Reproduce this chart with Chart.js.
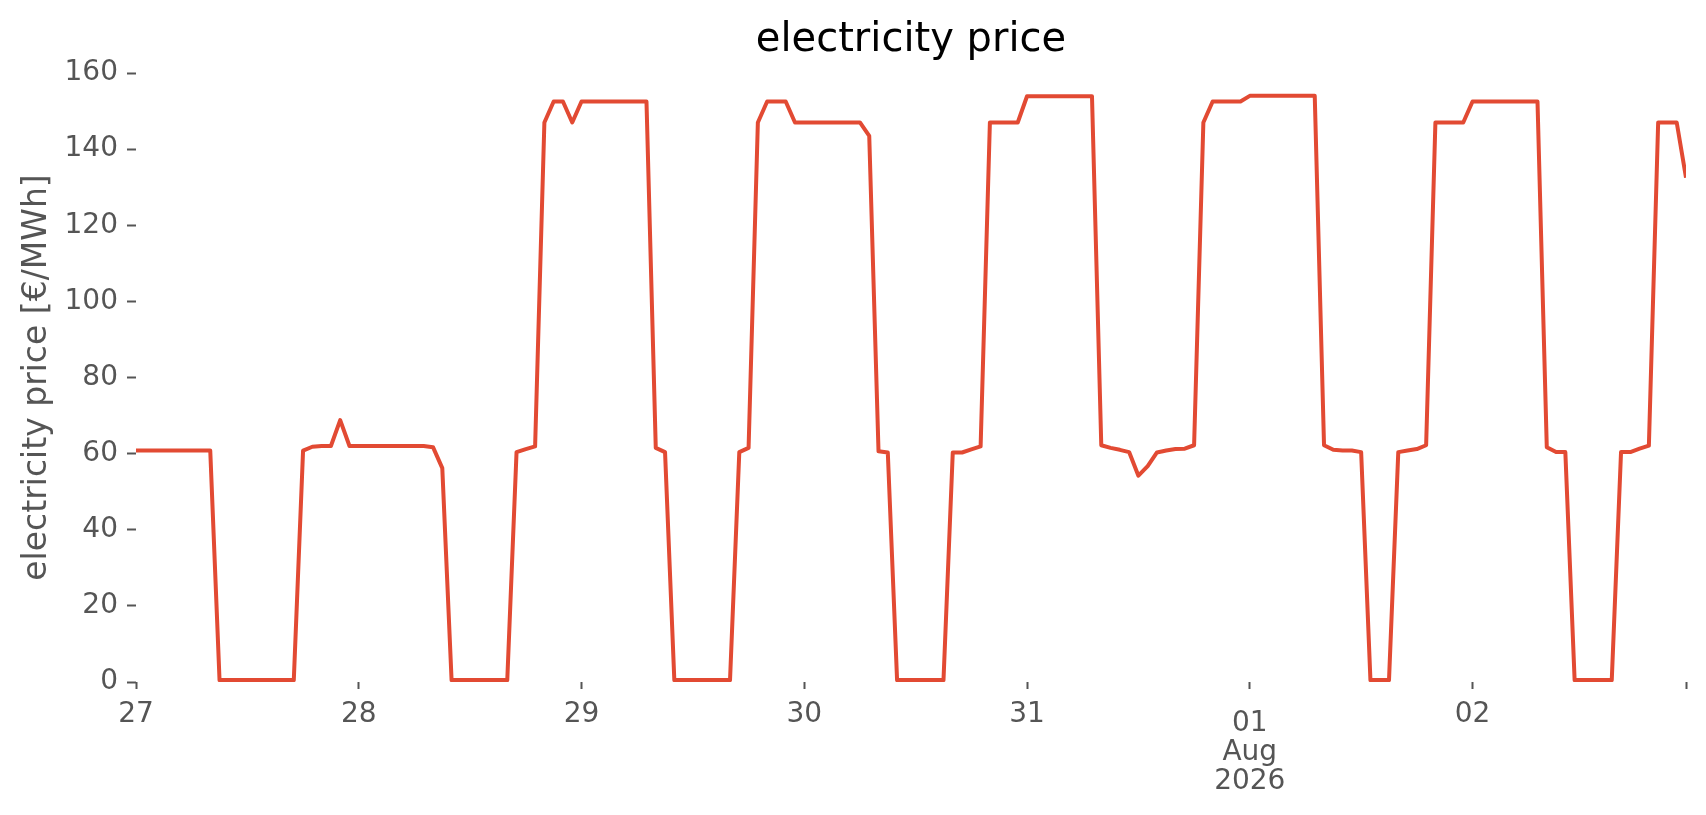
<!DOCTYPE html>
<html>
<head>
<meta charset="utf-8">
<title>electricity price</title>
<script src="https://cdn.jsdelivr.net/npm/chart.js@4/dist/chart.umd.min.js"></script>
<style>
  html, body { margin: 0; padding: 0; background: #fff; }
  canvas { display: block; }
</style>
</head>
<body>
<canvas id="priceChart" width="1706" height="815"></canvas>
<script>
// hourly prices, one array per day (00:00 .. 23:00)
const jul27 = [60.8, 60.8, 60.8, 60.8, 60.8, 60.8, 60.8, 60.8, 60.8, 0.5, 0.5, 0.5,
  0.5, 0.5, 0.5, 0.5, 0.5, 0.5, 60.8, 61.8, 62.0, 62.0, 68.8, 62.0];
const jul28 = [62.0, 62.0, 62.0, 62.0, 62.0, 62.0, 62.0, 62.0, 61.7, 56.2, 0.5, 0.5,
  0.5, 0.5, 0.5, 0.5, 0.5, 60.4, 61.2, 61.9, 147.0, 152.5, 152.5, 147.0];
const jul29 = [152.5, 152.5, 152.5, 152.5, 152.5, 152.5, 152.5, 152.5, 61.5, 60.4, 0.5, 0.5,
  0.5, 0.5, 0.5, 0.5, 0.5, 60.4, 61.5, 147.0, 152.5, 152.5, 152.5, 147.0];
const jul30 = [147.0, 147.0, 147.0, 147.0, 147.0, 147.0, 147.0, 143.5, 60.6, 60.3, 0.5, 0.5,
  0.5, 0.5, 0.5, 0.5, 60.3, 60.3, 61.1, 61.9, 147.0, 147.0, 147.0, 147.0];
const jul31 = [153.9, 153.9, 153.9, 153.9, 153.9, 153.9, 153.9, 153.9, 62.2, 61.5, 61.0, 60.4,
  54.2, 56.7, 60.3, 60.8, 61.2, 61.3, 62.2, 147.0, 152.5, 152.5, 152.5, 152.5];
const aug01 = [154.0, 154.0, 154.0, 154.0, 154.0, 154.0, 154.0, 154.0, 62.2, 61.0, 60.8, 60.8,
  60.4, 0.5, 0.5, 0.5, 60.4, 60.8, 61.2, 62.2, 147.0, 147.0, 147.0, 147.0];
const aug02 = [152.5, 152.5, 152.5, 152.5, 152.5, 152.5, 152.5, 152.5, 61.7, 60.4, 60.4, 0.5,
  0.5, 0.5, 0.5, 0.5, 60.4, 60.4, 61.3, 62.1, 147.0, 147.0, 147.0, 132.5];

// day ticks; the month start gets the long (major) label
const dayLabels = ['27', '28', '29', '30', '31', ['01', 'Aug', '2026'], '02'];

const prices = [].concat(jul27, jul28, jul29, jul30, jul31, aug01, aug02);
const points = prices.map((value, hour) => ({ x: hour, y: value }));
const lastHour = prices.length - 1;
const tickHours = dayLabels.map((label, day) => day * 24).concat([lastHour]);

const grey = '#555555';
const font = 'DejaVu Sans';

function dayLabel(value) {
  return value % 24 === 0 ? dayLabels[value / 24] : '';
}

const ctx = document.getElementById('priceChart').getContext('2d');

new Chart(ctx, {
  type: 'line',
  data: {
    datasets: [{
      label: 'electricity price',
      data: points,
      borderColor: '#E24A33',
      backgroundColor: '#E24A33',
      borderWidth: 4,
      borderJoinStyle: 'round',
      tension: 0,
      pointRadius: 0,
      fill: false,
    }],
  },
  options: {
    responsive: false,
    animation: false,
    devicePixelRatio: 1,
    layout: {
      padding: { left: 0, right: 17, top: 0, bottom: 0 },
    },
    plugins: {
      legend: { display: false },
      tooltip: { enabled: false },
      title: {
        display: true,
        fullSize: false,
        text: 'electricity price',
        color: '#000000',
        font: { family: font, size: 40, weight: 'normal' },
        padding: { top: 17, bottom: 8 },
      },
    },
    scales: {
      x: {
        type: 'linear',
        min: 0,
        max: lastHour,
        border: { display: false },
        grid: {
          drawOnChartArea: false,
          drawTicks: true,
          tickLength: 7,
          tickWidth: 2,
          tickColor: grey,
        },
        afterBuildTicks: (axis) => {
          axis.ticks = tickHours.map((value) => ({ value }));
        },
        afterFit: (scale) => {
          scale.height = 133;
        },
        ticks: {
          autoSkip: false,
          maxRotation: 0,
          padding: 20,
          color: grey,
          // major label sits a little lower than the day labels
          font: (c) => ({
            family: font,
            size: 28,
            lineHeight: c.tick && Array.isArray(dayLabel(c.tick.value)) ? '29px' : '12px',
          }),
          callback: (value) => dayLabel(value),
        },
      },
      y: {
        min: 0,
        max: 160,
        border: { display: false },
        grid: {
          drawOnChartArea: false,
          drawTicks: true,
          tickLength: 9,
          tickWidth: 2,
          tickColor: grey,
        },
        afterFit: (scale) => {
          scale.width = 136;
        },
        ticks: {
          stepSize: 20,
          padding: 9,
          color: grey,
          font: { family: font, size: 28 },
        },
        title: {
          display: true,
          text: 'electricity price [€/MWh]',
          color: grey,
          font: { family: font, size: 33 },
          padding: { top: 18, bottom: 0 },
        },
      },
    },
  },
});
</script>
</body>
</html>
